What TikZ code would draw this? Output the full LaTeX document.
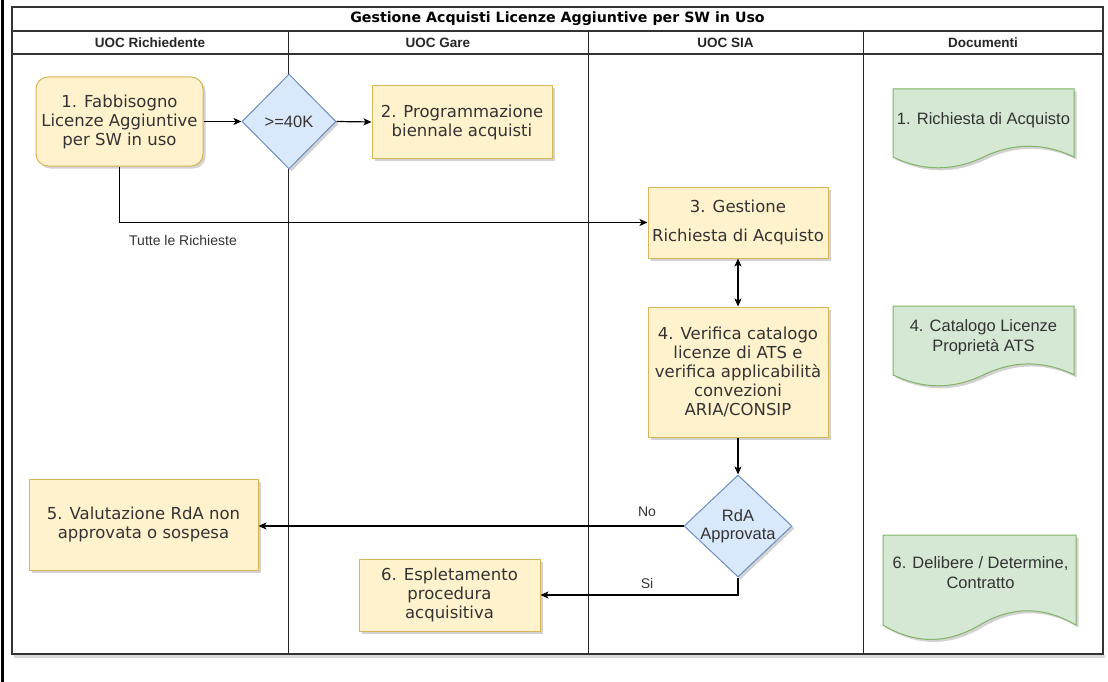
\documentclass[tikz,border=0pt]{standalone}
\usepackage{fontspec}
\setmainfont{Liberation Sans}
\newfontfamily\dvs{DejaVu Sans}
\usetikzlibrary{shapes.geometric,arrows.meta,shadows}
\definecolor{yfill}{HTML}{FFF2CC}
\definecolor{ydraw}{HTML}{D6B656}
\definecolor{bfill}{HTML}{DAE8FC}
\definecolor{bdraw}{HTML}{6C8EBF}
\definecolor{gfill}{HTML}{D5E8D4}
\definecolor{gdraw}{HTML}{82B366}
\definecolor{txt}{HTML}{333333}
\definecolor{frame}{HTML}{333333}
\tikzset{
 shad/.style={drop shadow={shadow xshift=2.5pt,shadow yshift=-2.5pt,opacity=0.25,fill=black!70}},
 proc/.style={rectangle, draw=ydraw, fill=yfill, line width=1pt, shad, inner sep=2pt, align=center, text=txt, font=\dvs\fontsize{16.5}{19}\selectfont},
 dec/.style={diamond, draw=bdraw, fill=bfill, line width=1pt, shad, inner sep=0pt},
 dectext/.style={align=center, text=txt, font=\fontsize{16.5}{18.5}\selectfont, inner sep=0pt},
 docsty/.style={draw=gdraw, fill=gfill, line width=1pt, shad},
 doctext/.style={align=center, text=txt, font=\fontsize{16.5}{20}\selectfont, inner sep=0pt},
 arr/.style={-{Stealth[length=8pt,width=7pt,inset=2pt]}, line width=1.2pt, black},
 darr/.style={{Stealth[length=8pt,width=7pt,inset=2pt]}-{Stealth[length=8pt,width=7pt,inset=2pt]}, line width=1.2pt, black},
 elabel/.style={text=txt, font=\fontsize{14}{16}\selectfont, inner sep=0pt},
 hdr/.style={text=black!85, font=\bfseries\fontsize{13.5}{16}\selectfont, inner sep=0pt},
 ttl/.style={text=black, font=\dvs\bfseries\fontsize{14.2}{16}\selectfont, inner sep=0pt},
 frm/.style={draw=frame, line width=1.5pt},
 lane/.style={draw=black!85, line width=1pt},
}
\newcommand{\docshape}[4]{%
  \draw[docsty] (#1,#2) -- ({#1+#3},#2) -- ({#1+#3},{#2+0.85*#4})
    .. controls ({#1+0.8333*#3},{#2+0.67*#4}) and ({#1+0.6667*#3},{#2+0.67*#4}) .. ({#1+0.5*#3},{#2+0.85*#4})
    .. controls ({#1+0.3333*#3},{#2+1.03*#4}) and ({#1+0.1667*#3},{#2+1.03*#4}) .. (#1,{#2+0.85*#4}) -- cycle;
}
\begin{document}
\begin{tikzpicture}[x=1pt,y=-1pt]
\useasboundingbox (0,0) rectangle (1108,682);
\fill[white] (0,0) rectangle (1108,682);
% left page edge
\draw[black, line width=3pt] (2,0) -- (2,682);
% table frame
\draw[black!15, line width=3pt] (14,656.5) -- (1105,656.5);
\draw[frm, fill=white] (12,7) rectangle (1103,654);
\draw[frm] (12,31) -- (1103,31);
\draw[frm] (12,54) -- (1103,54);
\draw[lane] (288,31) -- (288,654);
\draw[lane] (588,31) -- (588,654);
\draw[lane] (863,31) -- (863,654);
\node[ttl] (title) at (557.5,19) {Gestione Acquisti Licenze Aggiuntive per SW in Uso};
\node[hdr] (h1) at (150,42.5) {UOC Richiedente};
\node[hdr] (h2) at (438,42.5) {UOC Gare};
\node[hdr] (h3) at (725.5,42.5) {UOC SIA};
\node[hdr] (h4) at (983,42.5) {Documenti};

% documents
\docshape{893}{89}{181}{80}
\node[doctext] (doc1) at (983.5,120) {1. Richiesta di Acquisto};
\docshape{893}{306}{181}{81}
\node[doctext] (doc4) at (983.5,337) {4. Catalogo Licenze\\Proprietà ATS};
\docshape{883}{535}{193}{106}
\node[doctext] (doc6) at (980.5,573) {6. Delibere / Determine,\\Contratto};

% process nodes
\node[proc, rounded corners=12pt, minimum width=167pt, minimum height=89pt] (n1) at (119.5,121.5) {1. Fabbisogno\\Licenze Aggiuntive\\per SW in uso};
\node[dec, minimum width=94pt, minimum height=95pt] (d1) at (289,121.5) {};
\node[dectext] (d1t) at (d1.center) {>=40K};
\node[proc, minimum width=180pt, minimum height=72pt] (n2) at (462,122) {2. Programmazione\\biennale acquisti};
\node[proc, minimum width=180pt, minimum height=71pt] (n3) at (738,222.5) {3. Gestione\\[10pt]Richiesta di Acquisto};
\node[proc, minimum width=180pt, minimum height=130pt] (n4) at (738,372) {4. Verifica catalogo\\licenze di ATS e\\verifica applicabilità\\convezioni\\ARIA/CONSIP};
\node[dec, minimum width=108pt, minimum height=102pt] (d2) at (738,526) {};
\node[dectext] (d2t) at (d2.center) {RdA\\Approvata};
\node[proc, minimum width=229pt, minimum height=91pt] (n5) at (143.5,524.5) {5. Valutazione RdA non\\approvata o sospesa};
\node[proc, minimum width=181pt, minimum height=72pt] (n6) at (449.5,595) {6. Espletamento\\procedura\\acquisitiva};

% connectors
\draw[arr] (n1.east) -- (d1.west);
\draw[arr] (d1.east) -- (n2.west);
\draw[arr] (n1.south) |- (n3.west);
\node[elabel] (lt) at (183,240) {Tutte le Richieste};
\draw[darr] (n3.south) -- (n4.north);
\draw[arr] (n4.south) -- (d2.north);
\draw[arr] (d2.west) -- (d2.west -| n5.east);
\node[elabel] (lno) at (647,512) {No};
\draw[arr] (d2.south) |- (n6.east);
\node[elabel] (lsi) at (647,583) {Si};
\end{tikzpicture}
\end{document}
